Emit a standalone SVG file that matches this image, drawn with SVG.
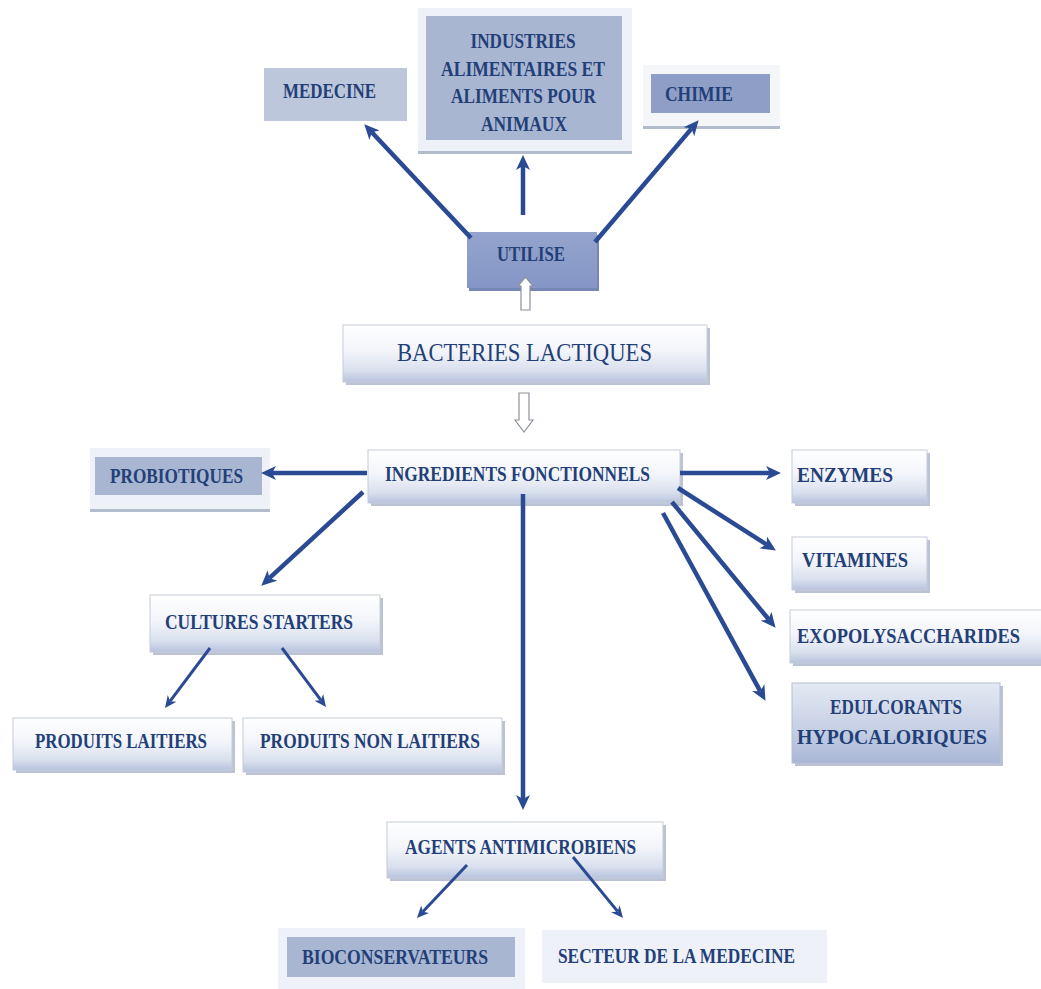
<svg xmlns="http://www.w3.org/2000/svg" width="1041" height="989" viewBox="0 0 1041 989">
<defs>
<linearGradient id="gLight" x1="0" y1="0" x2="0" y2="1">
<stop offset="0" stop-color="#ffffff"/>
<stop offset="0.45" stop-color="#f3f5fa"/>
<stop offset="0.8" stop-color="#d9e0ee"/>
<stop offset="1" stop-color="#b7c3dd"/>
</linearGradient>
<linearGradient id="gMid" x1="0" y1="0" x2="0" y2="1">
<stop offset="0" stop-color="#e4e9f3"/>
<stop offset="0.6" stop-color="#c5cfe4"/>
<stop offset="1" stop-color="#a7b5d6"/>
</linearGradient>
<linearGradient id="gDark" x1="0" y1="0" x2="0" y2="1">
<stop offset="0" stop-color="#94a4cd"/>
<stop offset="1" stop-color="#8596c6"/>
</linearGradient>
<marker id="ah" markerUnits="userSpaceOnUse" markerWidth="16" markerHeight="15" refX="4" refY="7" orient="auto">
<path d="M0,0 L15,7 L0,14 L4,7 z" fill="#2b4a94"/>
</marker>
<marker id="ahs" markerUnits="userSpaceOnUse" markerWidth="13" markerHeight="12" refX="3.5" refY="5.5" orient="auto">
<path d="M0,0 L12,5.5 L0,11 L3.5,5.5 z" fill="#2b4a94"/>
</marker>
</defs>
<style>
.t{font-family:"Liberation Serif","Times New Roman",serif;font-weight:bold;font-size:20px;fill:#233f78}
.tn{font-weight:normal;font-size:25px}
.tb{font-size:21px}
.light{fill:url(#gLight);stroke:#c6ccd8;stroke-width:1}
.mid{fill:url(#gMid);stroke:#b4bdd0;stroke-width:1}
.shadow{fill:#a3aec6;opacity:0.75}
.frame{fill:#eef1f7}
.fshadow{fill:#b3bccd}
.inner{fill:#a9b6d2}
.innerDark{fill:#8e9ec7}
.flat{fill:#bdc7dc}
.pale{fill:#eef1f7}
.c{fill:none;stroke:#2b4a94;stroke-width:4.5;marker-end:url(#ah)}
.cs{fill:none;stroke:#2b4a94;stroke-width:3;marker-end:url(#ahs)}
.hollow{fill:#ffffff;stroke:#8c929c;stroke-width:1.2}
</style>
<rect width="1041" height="989" fill="#ffffff"/>
<g id="nodes">
<g id="medecine">
<rect x="264" y="68" width="143" height="53" class="flat"/>
<text x="283" y="98" class="t" textLength="93" lengthAdjust="spacingAndGlyphs">MEDECINE</text>
</g>
<g id="industries">
<rect x="418" y="10" width="214" height="144" class="fshadow"/>
<rect x="418" y="8" width="214" height="143" class="frame"/>
<rect x="426" y="16" width="196" height="124" class="inner"/>
<text x="470.5" y="48" class="t" textLength="105" lengthAdjust="spacingAndGlyphs">INDUSTRIES</text>
<text x="441" y="76" class="t" textLength="164" lengthAdjust="spacingAndGlyphs">ALIMENTAIRES ET</text>
<text x="451" y="103" class="t" textLength="145" lengthAdjust="spacingAndGlyphs">ALIMENTS POUR</text>
<text x="481" y="131" class="t" textLength="86" lengthAdjust="spacingAndGlyphs">ANIMAUX</text>
</g>
<g id="chimie">
<rect x="643" y="67" width="137" height="62" class="fshadow"/>
<rect x="643" y="65" width="137" height="61" fill="#f4f6fa"/>
<rect x="651" y="74" width="119" height="39" class="innerDark"/>
<text x="665" y="101" class="t" textLength="68" lengthAdjust="spacingAndGlyphs">CHIMIE</text>
</g>
<g id="utilise">
<rect x="469" y="235" width="130" height="56" fill="#7587b6"/>
<rect x="467" y="232" width="130" height="56" fill="url(#gDark)"/>
<text x="497" y="261" class="t" textLength="68" lengthAdjust="spacingAndGlyphs">UTILISE</text>
</g>
<g id="bacteries">
<rect x="346" y="328" width="364" height="57" class="shadow"/>
<rect x="343" y="325" width="364" height="57" class="light"/>
<text x="397" y="361" class="t tn" textLength="255" lengthAdjust="spacingAndGlyphs">BACTERIES LACTIQUES</text>
</g>
<g id="ingredients">
<rect x="371" y="453" width="312" height="53" class="shadow"/>
<rect x="368" y="450" width="312" height="53" class="light"/>
<text x="385" y="481" class="t tb" textLength="265" lengthAdjust="spacingAndGlyphs">INGREDIENTS FONCTIONNELS</text>
</g>
<g id="probiotiques">
<rect x="90" y="450" width="180" height="62" class="fshadow"/>
<rect x="90" y="448" width="180" height="61" class="frame"/>
<rect x="95" y="457" width="167" height="38" class="inner"/>
<text x="110" y="483" class="t" textLength="133" lengthAdjust="spacingAndGlyphs">PROBIOTIQUES</text>
</g>
<g id="enzymes">
<rect x="795" y="453" width="135" height="53" class="shadow"/>
<rect x="792" y="450" width="135" height="53" class="light"/>
<text x="797" y="482" class="t" textLength="96" lengthAdjust="spacingAndGlyphs">ENZYMES</text>
</g>
<g id="vitamines">
<rect x="795" y="540" width="135" height="53" class="shadow"/>
<rect x="792" y="537" width="135" height="53" class="light"/>
<text x="802" y="567" class="t" textLength="106" lengthAdjust="spacingAndGlyphs">VITAMINES</text>
</g>
<g id="exopolysaccharides">
<rect x="793" y="613" width="251" height="53" class="shadow"/>
<rect x="790" y="610" width="252" height="53" class="light"/>
<text x="797" y="643" class="t" textLength="223" lengthAdjust="spacingAndGlyphs">EXOPOLYSACCHARIDES</text>
</g>
<g id="edulcorants">
<rect x="795" y="686" width="208" height="80" class="shadow"/>
<rect x="792" y="683" width="208" height="80" class="mid"/>
<text x="830" y="714" class="t" textLength="132" lengthAdjust="spacingAndGlyphs">EDULCORANTS</text>
<text x="797" y="744" class="t" textLength="190" lengthAdjust="spacingAndGlyphs">HYPOCALORIQUES</text>
</g>
<g id="cultures">
<rect x="153" y="598" width="230" height="57" class="shadow"/>
<rect x="150" y="595" width="230" height="57" class="light"/>
<text x="165" y="629" class="t" textLength="188" lengthAdjust="spacingAndGlyphs">CULTURES STARTERS</text>
</g>
<g id="laitiers">
<rect x="16" y="721" width="219" height="52" class="shadow"/>
<rect x="13" y="718" width="219" height="52" class="light"/>
<text x="35" y="748" class="t" textLength="172" lengthAdjust="spacingAndGlyphs">PRODUITS LAITIERS</text>
</g>
<g id="non-laitiers">
<rect x="246" y="721" width="259" height="54" class="shadow"/>
<rect x="243" y="718" width="259" height="54" class="light"/>
<text x="260" y="748" class="t" textLength="220" lengthAdjust="spacingAndGlyphs">PRODUITS NON LAITIERS</text>
</g>
<g id="agents">
<rect x="390" y="825" width="276" height="56" class="shadow"/>
<rect x="387" y="822" width="276" height="56" class="light"/>
<text x="405" y="854" class="t" textLength="231" lengthAdjust="spacingAndGlyphs">AGENTS ANTIMICROBIENS</text>
</g>
<g id="bioconservateurs">
<rect x="278" y="928" width="247" height="61" class="frame"/>
<rect x="287" y="937" width="228" height="40" class="inner"/>
<text x="302" y="964" class="t" textLength="186" lengthAdjust="spacingAndGlyphs">BIOCONSERVATEURS</text>
</g>
<g id="secteur">
<rect x="542" y="930" width="285" height="53" class="pale"/>
<text x="558" y="963" class="t" textLength="237" lengthAdjust="spacingAndGlyphs">SECTEUR DE LA MEDECINE</text>
</g>
</g>
<g id="connectors">
<line x1="471" y1="238" x2="371.8" y2="132.3" class="c"/>
<line x1="523" y1="215" x2="523" y2="166" class="c"/>
<line x1="595" y1="242" x2="691.5" y2="128.6" class="c"/>
<line x1="367" y1="473" x2="272" y2="473" class="c"/>
<line x1="363" y1="492" x2="269.4" y2="578.2" class="c"/>
<line x1="680" y1="473" x2="770" y2="473" class="c"/>
<line x1="678" y1="488" x2="766.6" y2="544.6" class="c"/>
<line x1="672" y1="502" x2="768.6" y2="619.3" class="c"/>
<line x1="663" y1="513" x2="760.2" y2="691.2" class="c"/>
<line x1="523" y1="494" x2="523" y2="799" class="c"/>
<line x1="210" y1="648" x2="170.1" y2="701.2" class="cs"/>
<line x1="282" y1="648" x2="320.9" y2="700.2" class="cs"/>
<line x1="467" y1="865" x2="422.8" y2="911.8" class="cs"/>
<line x1="573" y1="857" x2="617.6" y2="911.4" class="cs"/>
<path d="M521,310 L521,286 L518,286 L525.5,277 L533,286 L530,286 L530,310 Z" class="hollow"/>
<path d="M519,393 L529,393 L529,420 L533,420 L524,432 L515,420 L519,420 Z" class="hollow"/>
</g>
</svg>
